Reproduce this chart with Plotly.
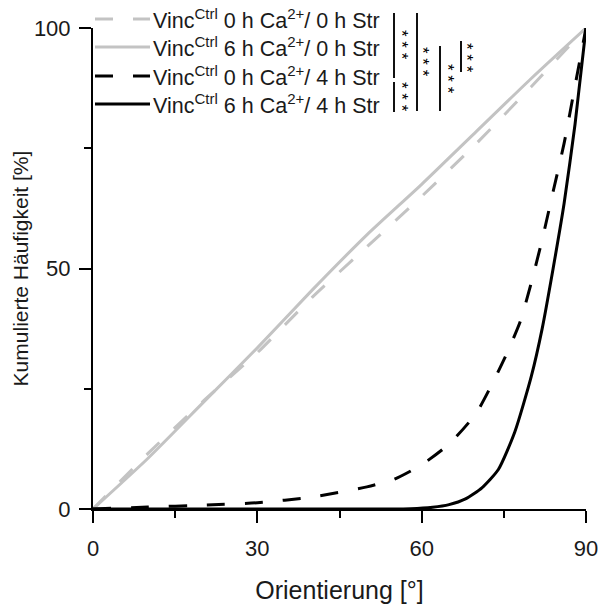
import plotly.graph_objects as go

# ---- data ----
gray_dash_x = [0, 10, 20, 30, 40, 50, 60, 70, 80, 90]
gray_dash_y = [0, 11.5, 22.3, 32.5, 44, 54.5, 65, 76, 87.8, 100]

gray_solid_x = [0, 10, 20, 30, 40, 50, 60, 70, 80, 90]
gray_solid_y = [0, 10.5, 22, 33.5, 45.5, 57, 67.5, 78.5, 89.5, 100]

black_dash_x = [0, 10, 20, 30, 40, 50, 55, 60, 65, 70, 75, 78, 80, 82, 84, 86, 88, 90]
black_dash_y = [0, 0.4, 0.8, 1.3, 2.5, 4.6, 6.2, 9.2, 13.5, 20, 31, 39, 47, 56, 66, 76, 88, 100]

black_solid_x = [0, 50, 58, 62, 65, 68, 71, 74, 77, 80, 82, 84, 86, 88, 90]
black_solid_y = [0, 0, 0.05, 0.35, 0.9, 2.1, 4.4, 8.2, 16, 27.5, 37.5, 50, 63.5, 80, 100]

names = [
    "Vinc<sup>Ctrl</sup> 0 h Ca<sup>2+</sup>/ 0 h Str",
    "Vinc<sup>Ctrl</sup> 6 h Ca<sup>2+</sup>/ 0 h Str",
    "Vinc<sup>Ctrl</sup> 0 h Ca<sup>2+</sup>/ 4 h Str",
    "Vinc<sup>Ctrl</sup> 6 h Ca<sup>2+</sup>/ 4 h Str",
]
sig_label = "* * *"

x_ticks = [0, 30, 60, 90]
y_ticks = [0, 50, 100]

GRAY = "#c3c3c3"
BLACK = "#000000"
DASH = "18px,20px"
FONT = "Liberation Sans, Arial, sans-serif"

fig = go.Figure()
series = [
    (gray_dash_x, gray_dash_y, GRAY, DASH),
    (gray_solid_x, gray_solid_y, GRAY, "solid"),
    (black_dash_x, black_dash_y, BLACK, DASH),
    (black_solid_x, black_solid_y, BLACK, "solid"),
]
for i, (xs, ys, col, dash) in enumerate(series):
    fig.add_trace(go.Scatter(
        x=xs, y=ys, mode="lines", name=names[i],
        line=dict(color=col, width=3, dash=dash, shape="spline", smoothing=0.6),
        cliponaxis=False, showlegend=False,
    ))

# helpers: pixel -> paper coordinates of the plot area
W, H, L, B = 493.0, 481.0, 93.0, 509.0
def px(xp):
    return (xp - L) / W
def py(yp):
    return (B - yp) / H

shapes = []
annotations = []

# legend drawn in the top-left corner
legend_rows = [19, 47, 76, 104]
for i, (xs, ys, col, dash) in enumerate(series):
    yc = legend_rows[i]
    shapes.append(dict(type="line", xref="paper", yref="paper",
                       x0=px(95), x1=px(150), y0=py(yc), y1=py(yc),
                       line=dict(color=col, width=3, dash=dash)))
    annotations.append(dict(text=names[i], xref="paper", yref="paper",
                            x=px(151), y=py(yc), showarrow=False,
                            xanchor="left", yanchor="middle",
                            font=dict(size=21.5, color="#1a1a1a", family=FONT)))

# significance bars
bars = [
    (394, 13, 78, 401, 45),
    (394, 82, 112, 401, 97),
    (417, 13, 111, 423, 62),
    (440, 46, 111, 447, 79),
    (461, 41, 72, 467, 58),
]
for bx, y0, y1, ax, sy in bars:
    shapes.append(dict(type="line", xref="paper", yref="paper",
                       x0=px(bx), x1=px(bx), y0=py(y0), y1=py(y1),
                       line=dict(color="#111111", width=2)))
    annotations.append(dict(text=sig_label, xref="paper", yref="paper",
                            x=px(ax), y=py(sy), showarrow=False, textangle=90,
                            xanchor="center", yanchor="middle",
                            font=dict(size=17, color="#000000", family=FONT)))

fig.update_layout(
    width=599, height=604,
    margin=dict(l=93, r=13, t=28, b=95, autoexpand=False),
    paper_bgcolor="white", plot_bgcolor="white",
    font=dict(family=FONT, color="#1a1a1a"),
    showlegend=False,
    shapes=shapes,
    annotations=annotations,
    xaxis=dict(range=[0, 90], tickvals=x_ticks, ticks="outside", ticklen=12, tickwidth=2,
               tickcolor="black", showline=True, linecolor="black", linewidth=2,
               showgrid=False, zeroline=False, tickfont=dict(size=22), automargin=False,
               ticklabelstandoff=7,
               minor=dict(tickvals=[15, 45, 75], ticks="outside", ticklen=7, tickwidth=2, tickcolor="black"),
               title=dict(text="Orientierung [°]", font=dict(size=25), standoff=25)),
    yaxis=dict(range=[0, 100], tickvals=y_ticks, ticks="outside", ticklen=12, tickwidth=2,
               tickcolor="black", showline=True, linecolor="black", linewidth=2,
               showgrid=False, zeroline=False, tickfont=dict(size=22), automargin=False,
               ticklabelstandoff=4,
               minor=dict(tickvals=[25, 75], ticks="outside", ticklen=7, tickwidth=2, tickcolor="black"),
               title=dict(text="Kumulierte Häufigkeit [%]", font=dict(size=21), standoff=0)),
)

fig.write_html("out.html", post_script="document.body.style.margin='0';",
               config={"displayModeBar": False})
